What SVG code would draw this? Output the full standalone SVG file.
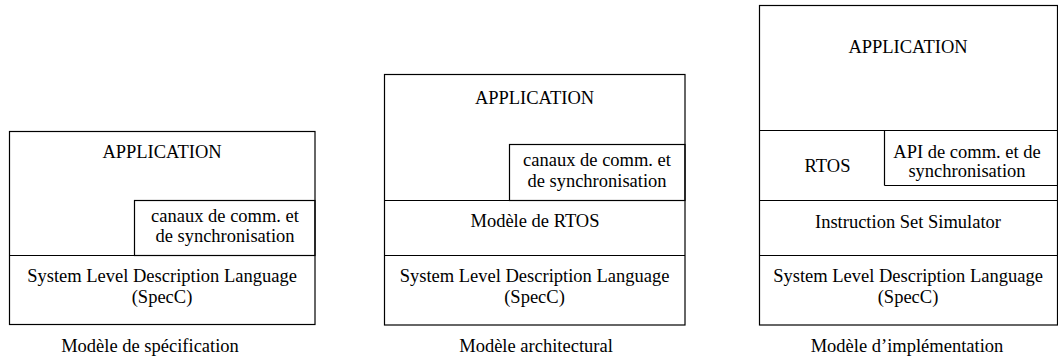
<svg xmlns="http://www.w3.org/2000/svg" width="1058" height="358" viewBox="0 0 1058 358">
<style>
rect, line { fill: none; stroke: #000; stroke-width: 1.2; }
text { font-family: "Liberation Serif", "DejaVu Serif", serif; font-size: 18.5px; fill: #000; text-anchor: middle; }
</style>
<rect x="0" y="0" width="1058" height="358" style="fill:#fff;stroke:none"/>
<g id="model-spec">
  <rect x="9.5" y="131.5" width="305.5" height="193"/>
  <line x1="9.5" y1="255.5" x2="315" y2="255.5"/>
  <rect x="134.5" y="200.5" width="180.5" height="55"/>
  <text x="162" y="158">APPLICATION</text>
  <text x="225" y="222">canaux de comm. et</text>
  <text x="225" y="241.5">de synchronisation</text>
  <text x="162" y="282">System Level Description Language</text>
  <text x="162" y="303">(SpecC)</text>
  <text x="150" y="352">Modèle de spécification</text>
</g>
<g id="model-arch">
  <rect x="384.5" y="74.5" width="300.5" height="250.5"/>
  <line x1="384.5" y1="200.5" x2="685" y2="200.5"/>
  <line x1="384.5" y1="255.5" x2="685" y2="255.5"/>
  <rect x="509.5" y="144.5" width="175.5" height="56"/>
  <text x="534.5" y="103.5">APPLICATION</text>
  <text x="597" y="166">canaux de comm. et</text>
  <text x="597" y="186.5">de synchronisation</text>
  <text x="535" y="227">Modèle de RTOS</text>
  <text x="534.5" y="282">System Level Description Language</text>
  <text x="534.5" y="303">(SpecC)</text>
  <text x="536" y="352">Modèle architectural</text>
</g>
<g id="model-impl">
  <rect x="759.5" y="5.5" width="298" height="319.5"/>
  <line x1="759.5" y1="130.5" x2="1058" y2="130.5"/>
  <line x1="759.5" y1="200.5" x2="1058" y2="200.5"/>
  <line x1="759.5" y1="255.5" x2="1058" y2="255.5"/>
  <line x1="884.5" y1="130.5" x2="884.5" y2="185.5"/>
  <line x1="884.5" y1="185.5" x2="1058" y2="185.5"/>
  <text x="908" y="53">APPLICATION</text>
  <text x="827.5" y="172">RTOS</text>
  <text x="967" y="158">API de comm. et de</text>
  <text x="967" y="177">synchronisation</text>
  <text x="908" y="228">Instruction Set Simulator</text>
  <text x="908" y="282">System Level Description Language</text>
  <text x="908" y="303">(SpecC)</text>
  <text x="907" y="352">Modèle d’implémentation</text>
</g>
<g id="connectors"></g>
</svg>
